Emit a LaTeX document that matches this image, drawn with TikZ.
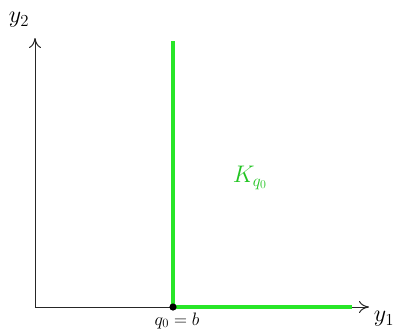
\documentclass[tikz,border=0pt]{standalone}
\usepackage{fix-cm}
\usetikzlibrary{arrows.meta}
\definecolor{kgreen}{RGB}{40,230,40}
\begin{document}
\begin{tikzpicture}[x=1pt,y=-1pt,
  axis/.style={black!85,line width=1pt,-{To[length=10pt,width=12pt]}},
  cone/.style={kgreen,line width=3.5pt},
  lbl/.style={font=\fontsize{24}{28}\selectfont,inner sep=0pt}]
\useasboundingbox (0,0) rectangle (394,330);
\coordinate (O) at (35,307);
\coordinate (Xend) at (369,307);
\coordinate (Yend) at (35,38);
\coordinate (B) at (173,307);
\coordinate (Ktop) at (173,41);
\coordinate (Kright) at (352,307);
\draw[axis] (O) -- (Xend);
\draw[axis] (O) -- (Yend);
\draw[cone] (Ktop) -- (B) -- (Kright);
\fill (B) circle (3.6pt);
\node[lbl] (y1) at (384,319) {$y_1$};
\node[lbl] (y2) at (19,20) {$y_2$};
\node[lbl,text=kgreen!85!black] (K) at (250,178) {$K_{q_0}$};
\node[font=\fontsize{18}{20}\selectfont,inner sep=0pt,anchor=base] (q) at (177,325) {$q_0=b$};
\end{tikzpicture}
\end{document}
